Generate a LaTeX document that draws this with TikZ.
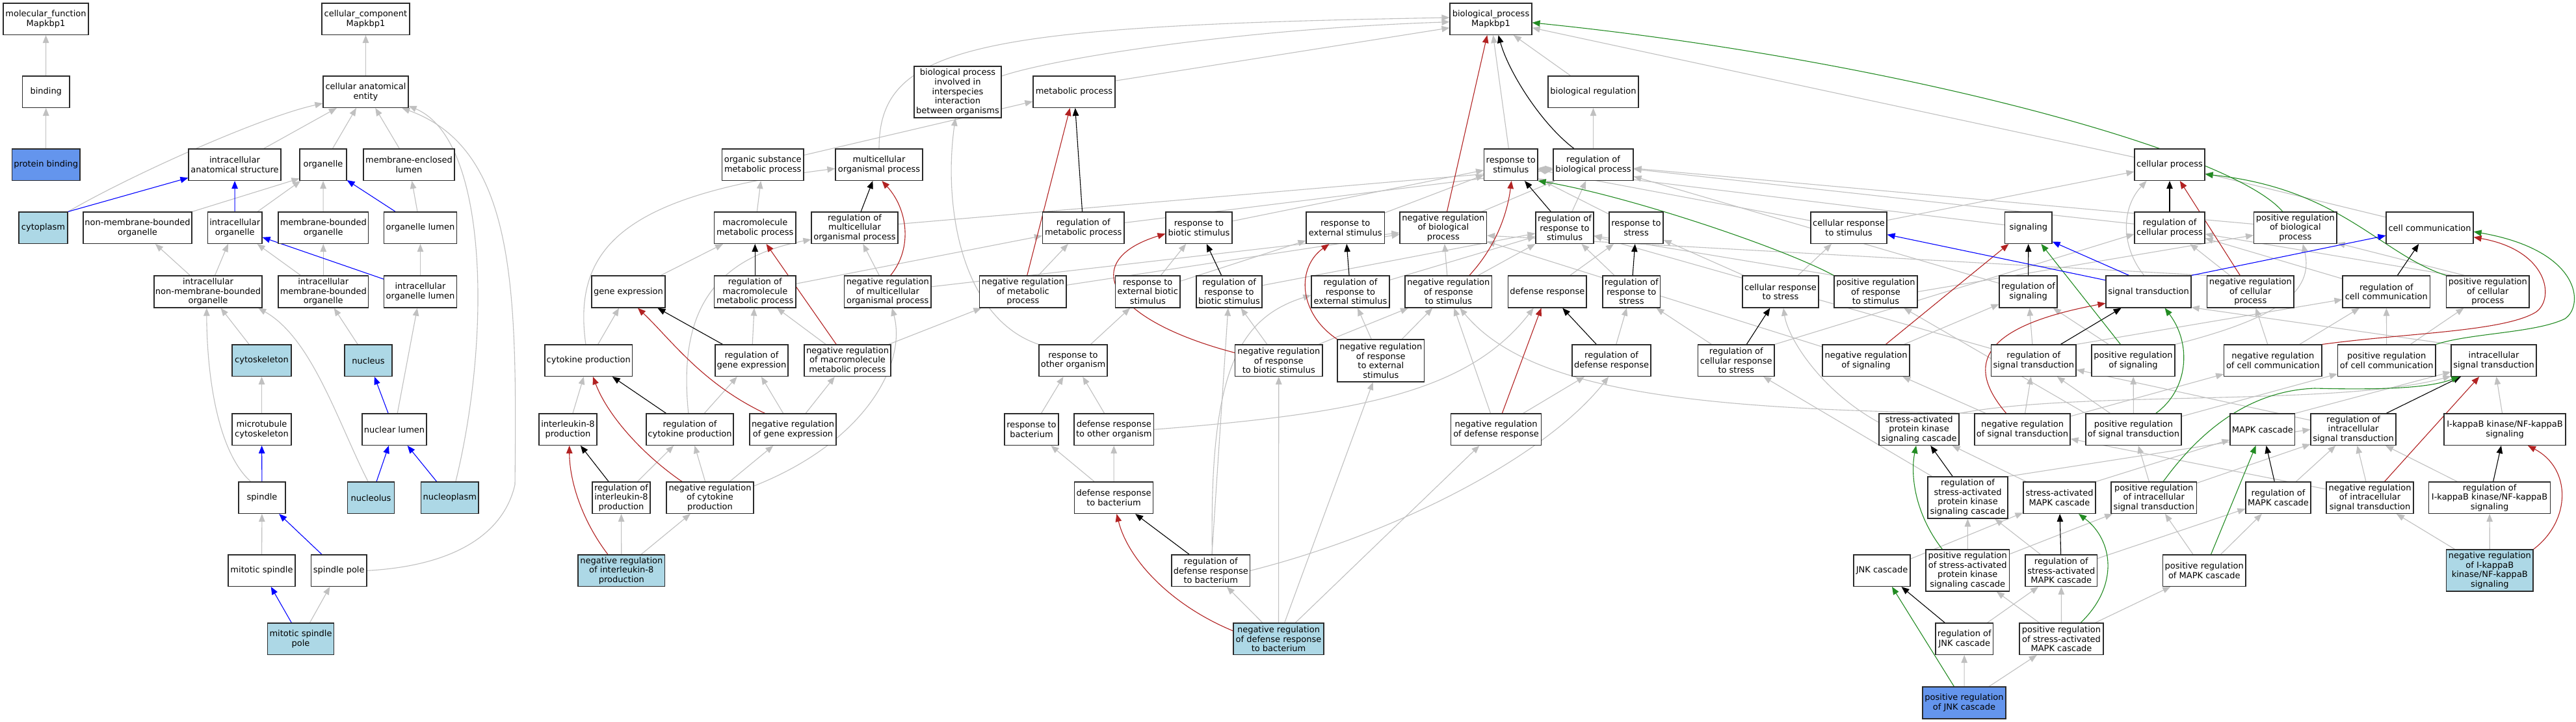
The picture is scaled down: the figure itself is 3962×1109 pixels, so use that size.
\documentclass[tikz,border=0pt]{standalone}
\usepackage{fontspec}
\setmainfont{DejaVu Sans}
\usetikzlibrary{arrows.meta,backgrounds}
\definecolor{egray}{HTML}{C0C0C0}
\definecolor{ered}{HTML}{B22222}
\definecolor{egreen}{HTML}{228B22}
\definecolor{eblue}{HTML}{0000FF}
\definecolor{lblue}{HTML}{ADD8E6}
\definecolor{rblue}{HTML}{6495ED}
\definecolor{bord}{HTML}{2A2A2A}
\tikzset{
 box/.style={draw=bord, line width=1.15pt, fill=white, align=center, inner sep=0pt, font=\fontsize{13}{14.6}\selectfont},
 lb/.style={fill=lblue},
 rb/.style={fill=rblue},
 edge/.style={line width=1.1pt, -{Triangle[length=12pt,width=9.5pt]}},
 ga/.style={edge, draw=egray},
 bk/.style={edge, draw=black},
 rd/.style={edge, draw=ered},
 gn/.style={edge, draw=egreen},
 bl/.style={edge, draw=eblue},
}
\newcommand\gnode[7][]{\node[box,#1,minimum width={(#4)-(#3)},minimum height={(#6)-(#5)}] (#2) at ({((#3)+(#4))/2},{((#5)+(#6))/2}) {#7};}
\newcommand\edg[3]{\draw[#1] (#2) -- (#3);}
\begin{document}
\begin{tikzpicture}[x=1pt,y=-1pt]
\useasboundingbox (0,0) rectangle (3962,1109);
% R0
\gnode{mf}{5}{136}{5}{53.5}{molecular\_function\\Mapkbp1}
\gnode{cc}{495}{630}{5}{53.5}{cellular\_component\\Mapkbp1}
\gnode{bp}{2230}{2356}{5}{53.5}{biological\_process\\Mapkbp1}
% R1
\gnode{binding}{34.5}{107}{117}{165.5}{binding}
\gnode{cae}{497}{628}{117}{165.5}{cellular anatomical\\entity}
\gnode{bpii}{1406}{1540}{102}{181}{biological process\\involved in\\interspecies\\interaction\\between organisms}
\gnode{metab}{1589}{1715}{117}{165.5}{metabolic process}
\gnode{bioreg}{2381}{2520}{117}{165.5}{biological regulation}
% R2
\gnode[rb]{pbind}{18.5}{123}{229}{277.5}{protein binding}
\gnode{ias}{290}{432}{229}{277.5}{intracellular\\anatomical structure}
\gnode{organelle}{461}{533}{229}{277.5}{organelle}
\gnode{mel}{559}{699}{229}{277.5}{membrane-enclosed\\lumen}
\gnode{osmp}{1110.5}{1236}{229}{277.5}{organic substance\\metabolic process}
\gnode{mop}{1285}{1419}{229}{277.5}{multicellular\\organismal process}
\gnode{rts}{2282.6}{2365}{229}{277.5}{response to\\stimulus}
\gnode{rbp}{2389}{2512}{229}{277.5}{regulation of\\biological process}
\gnode{cp}{3283}{3391}{229}{277.5}{cellular process}
% R3
\gnode[lb]{cytoplasm}{29}{104}{326}{374.5}{cytoplasm}
\gnode{nmbo}{128}{295}{326}{374.5}{non-membrane-bounded\\organelle}
\gnode{io}{319.5}{403}{326}{374.5}{intracellular\\organelle}
\gnode{mbo}{428}{566.5}{326}{374.5}{membrane-bounded\\organelle}
\gnode{ol}{590.5}{702.5}{326}{374.5}{organelle lumen}
\gnode{mmp}{1098.5}{1224}{326}{374.5}{macromolecule\\metabolic process}
\gnode{rmop}{1248}{1381}{326}{374.5}{regulation of\\multicellular\\organismal process}
\gnode{rmp}{1603.5}{1729}{326}{374.5}{regulation of\\metabolic process}
\gnode{rbs}{1793}{1895}{326}{374.5}{response to\\biotic stimulus}
\gnode{res}{2009}{2129.5}{326}{374.5}{response to\\external stimulus}
\gnode{nrbp}{2153}{2286.6}{326}{374.5}{negative regulation\\of biological\\process}
\gnode{rrs}{2362}{2451}{326}{374.5}{regulation of\\response to\\stimulus}
\gnode{rstress}{2475}{2558}{326}{374.5}{response to\\stress}
\gnode{crs}{2785}{2902}{326}{374.5}{cellular response\\to stimulus}
\gnode{signaling}{3083.6}{3156}{326}{374.5}{signaling}
\gnode{rcp}{3283}{3391}{326}{374.5}{regulation of\\cellular process}
\gnode{prbp}{3466.6}{3594}{326}{374.5}{positive regulation\\of biological\\process}
\gnode{cellcomm}{3670}{3804}{326}{374.5}{cell communication}
% R4
\gnode{inmbo}{237}{403}{424}{473}{intracellular\\non-membrane-bounded\\organelle}
\gnode{imbo}{428}{566.5}{424}{473}{intracellular\\membrane-bounded\\organelle}
\gnode{iol}{590.5}{702.5}{424}{473}{intracellular\\organelle lumen}
\gnode{geneexp}{910}{1023}{424}{473}{gene expression}
\gnode{rmmp}{1098.5}{1224}{424}{473}{regulation of\\macromolecule\\metabolic process}
\gnode{nrmop}{1298.5}{1432}{424}{473}{negative regulation\\of multicellular\\organismal process}
\gnode{nrmp}{1506.6}{1640}{424}{473}{negative regulation\\of metabolic\\process}
\gnode{rebs}{1715.5}{1815}{424}{473}{response to\\external biotic\\stimulus}
\gnode{rrbs}{1840}{1941}{424}{473}{regulation of\\response to\\biotic stimulus}
\gnode{rres}{2017}{2137}{424}{473}{regulation of\\response to\\external stimulus}
\gnode{nrrs}{2161}{2294.6}{424}{473}{negative regulation\\of response\\to stimulus}
\gnode{defresp}{2319.6}{2440}{424}{473}{defense response}
\gnode{rrstress}{2465}{2553.5}{424}{473}{regulation of\\response to\\stress}
\gnode{crstress}{2680}{2797}{424}{473}{cellular response\\to stress}
\gnode{prrs}{2821}{2949}{424}{473}{positive regulation\\of response\\to stimulus}
\gnode{rsig}{3075}{3164}{424}{473}{regulation of\\signaling}
\gnode{st}{3239}{3370}{424}{473}{signal transduction}
\gnode{nrcp}{3394.5}{3528}{424}{473}{negative regulation\\of cellular\\process}
\gnode{rcc}{3603}{3737.6}{424}{473}{regulation of\\cell communication}
\gnode{prcp}{3762.6}{3890}{424}{473}{positive regulation\\of cellular\\process}
% R5
\gnode[lb]{cytoskeleton}{357}{448}{530}{578.5}{cytoskeleton}
\gnode[lb]{nucleus}{530}{603}{530}{578.5}{nucleus}
\gnode{cytokine}{838}{972.6}{530}{578.5}{cytokine production}
\gnode{rge}{1100}{1212}{530}{578.5}{regulation of\\gene expression}
\gnode{nrmmp}{1237}{1370}{530}{578.5}{negative regulation\\of macromolecule\\metabolic process}
\gnode{rto}{1598}{1703}{530}{578.5}{response to\\other organism}
\gnode{nrrbs}{1899.5}{2034}{530}{578.5}{negative regulation\\of response\\to biotic stimulus}
\gnode{nrres}{2057}{2190.6}{522}{587}{negative regulation\\of response\\to external\\stimulus}
\gnode{rdr}{2418}{2539}{530}{578.5}{regulation of\\defense response}
\gnode{rcrs}{2611.6}{2729}{530}{578.5}{regulation of\\cellular response\\to stress}
\gnode{nrsig}{2803}{2937}{530}{578.5}{negative regulation\\of signaling}
\gnode{rst}{3062.6}{3193}{530}{578.5}{regulation of\\signal transduction}
\gnode{prsig}{3217}{3345}{530}{578.5}{positive regulation\\of signaling}
\gnode{nrcc}{3420.7}{3571}{530}{578.5}{negative regulation\\of cell communication}
\gnode{prcc}{3595.5}{3746}{530}{578.5}{positive regulation\\of cell communication}
\gnode{ist}{3770}{3901}{530}{578.5}{intracellular\\signal transduction}
% R6
\gnode{mtc}{357}{448}{636}{684.5}{microtubule\\cytoskeleton}
\gnode{nl}{557}{656}{636}{684.5}{nuclear lumen}
\gnode{il8}{829}{918}{636}{684.5}{interleukin-8\\production}
\gnode{rcytp}{994}{1128}{636}{684.5}{regulation of\\cytokine production}
\gnode{nrge}{1153}{1286}{636}{684.5}{negative regulation\\of gene expression}
\gnode{rbact}{1545}{1628}{636}{684.5}{response to\\bacterium}
\gnode{drto}{1652}{1774.5}{636}{684.5}{defense response\\to other organism}
\gnode{nrdr}{2231.7}{2370.5}{636}{684.5}{negative regulation\\of defense response}
\gnode{sapk}{2890}{3013}{636}{684.5}{stress-activated\\protein kinase\\signaling cascade}
\gnode{nrst}{3037}{3184}{636}{684.5}{negative regulation\\of signal transduction}
\gnode{prst}{3208}{3355}{636}{684.5}{positive regulation\\of signal transduction}
\gnode{mapk}{3430}{3529.6}{636}{684.5}{MAPK cascade}
\gnode{rist}{3554}{3685}{636}{684.5}{regulation of\\intracellular\\signal transduction}
\gnode{ikk}{3759}{3946}{636}{684.5}{I-kappaB kinase/NF-kappaB\\signaling}
% R7
\gnode{spindle}{367}{439}{741}{789.5}{spindle}
\gnode[lb]{nucleolus}{534.5}{606.5}{741}{789.5}{nucleolus}
\gnode[lb]{nucleoplasm}{647.6}{736}{741}{789.5}{nucleoplasm}
\gnode{ril8}{911}{1000}{741}{789.5}{regulation of\\interleukin-8\\production}
\gnode{nrcytp}{1025}{1159}{741}{789.5}{negative regulation\\of cytokine\\production}
\gnode{drb}{1652.6}{1773.5}{741}{789.5}{defense response\\to bacterium}
\gnode{rsapk}{2965}{3088}{733}{797}{regulation of\\stress-activated\\protein kinase\\signaling cascade}
\gnode{samapk}{3112}{3223}{741}{789.5}{stress-activated\\MAPK cascade}
\gnode{prist}{3247}{3378.5}{741}{789.5}{positive regulation\\of intracellular\\signal transduction}
\gnode{rmapk}{3454}{3554}{741}{789.5}{regulation of\\MAPK cascade}
\gnode{nrist}{3578}{3712}{741}{789.5}{negative regulation\\of intracellular\\signal transduction}
\gnode{rikk}{3735.5}{3922.6}{741}{789.5}{regulation of\\I-kappaB kinase/NF-kappaB\\signaling}
% R8
\gnode{mspindle}{351}{454}{853}{901.5}{mitotic spindle}
\gnode{spole}{478.5}{564}{853}{901.5}{spindle pole}
\gnode[lb]{nril8}{889}{1022.6}{853}{901.5}{negative regulation\\of interleukin-8\\production}
\gnode{rdrb}{1802}{1922.6}{853}{901.5}{regulation of\\defense response\\to bacterium}
\gnode{jnk}{2851}{2938}{853}{901.5}{JNK cascade}
\gnode{prsapk}{2962}{3090.4}{845}{909}{positive regulation\\of stress-activated\\protein kinase\\signaling cascade}
\gnode{rsamapk}{3115}{3225.5}{853}{901.5}{regulation of\\stress-activated\\MAPK cascade}
\gnode{prmapk}{3326.5}{3454}{853}{901.5}{positive regulation\\of MAPK cascade}
\gnode[lb]{nrikk}{3762.6}{3896}{845}{909}{negative regulation\\of I-kappaB\\kinase/NF-kappaB\\signaling}
% R9
\gnode[lb]{msp}{411.6}{513.5}{958}{1006.5}{mitotic spindle\\pole}
\gnode[lb]{nrdrb}{1897}{2036}{958}{1006.5}{negative regulation\\of defense response\\to bacterium}
\gnode{rjnk}{2977}{3065.5}{958}{1006.5}{regulation of\\JNK cascade}
\gnode{prsamapk}{3106}{3235}{958}{1006.5}{positive regulation\\of stress-activated\\MAPK cascade}
% R10
\gnode[rb]{prjnk}{2957}{3085}{1056}{1105}{positive regulation\\of JNK cascade}

\begin{scope}[on background layer]
\fill[white] (0,0) rectangle (3962,1109);
% ---------- gray (is_a) ----------
\edg{ga}{binding}{mf}
\edg{ga}{pbind}{binding}
\edg{ga}{cae}{cc}
\edg{ga}{ias}{cae}
\edg{ga}{organelle}{cae}
\edg{ga}{mel}{cae}
\draw[ga] (cytoplasm.north east) .. controls (200,270) and (400,180) .. (cae.-165);
\draw[ga] (nmbo.north east) -- (organelle.-150);
\edg{ga}{io}{organelle}
\edg{ga}{mbo}{organelle}
\edg{ga}{ol}{mel}
\edg{ga}{inmbo}{nmbo}
\edg{ga}{inmbo}{io}
\edg{ga}{imbo}{io}
\edg{ga}{imbo}{mbo}
\edg{ga}{iol}{ol}
\edg{ga}{cytoskeleton}{inmbo}
\edg{ga}{nucleus}{imbo}
\edg{ga}{mtc}{cytoskeleton}
\edg{ga}{nl}{iol}
\draw[ga] (spindle.125) .. controls (330,690) and (318,560) .. (inmbo.-95);
\draw[ga] (nucleolus.100) .. controls (520,650) and (480,520) .. (inmbo.-18);
\draw[ga] (nucleoplasm.70) .. controls (755,520) and (752,215) .. (cae.-18);
\draw[ga] (spole.east) .. controls (700,870) and (775,820) .. (792,745) .. controls (795,450) and (795,230) .. (cae.-24);
\edg{ga}{mspindle}{spindle}
\edg{ga}{msp}{spole}
% bp level
\draw[ga] (bpii.20) .. controls (1620,90) and (1900,45) .. (bp.184);
\draw[ga] (metab.15) -- (bp.192);
\draw[ga] (mop.north) .. controls (1352,70) and (1500,40) .. (bp.178);
\edg{ga}{bioreg}{bp}
\edg{ga}{rts}{bp}
\edg{ga}{rbp}{bioreg}
\edg{ga}{nrbp}{rbp}
\edg{ga}{cp}{bp}
\edg{ga}{prbp}{rbp}
% metabolic
\edg{ga}{osmp}{metab}
\edg{ga}{mmp}{osmp}
\edg{ga}{geneexp}{mmp}
\edg{ga}{rmmp}{rmp}
\edg{ga}{nrmmp}{rmmp}
\edg{ga}{nrmmp}{nrmp}
\edg{ga}{rmop}{rbp}
\edg{ga}{nrmop}{rmop}
\edg{ga}{nrmop}{nrbp}
\edg{ga}{nrmp}{rmp}
\edg{ga}{nrmp}{nrbp}
\edg{ga}{rmp}{rbp}
\edg{ga}{cytokine}{geneexp}
\draw[ga] (cytokine.100) .. controls (880,380) and (960,300) .. (mop.-175);
\edg{ga}{rge}{rmmp}
\edg{ga}{nrge}{rge}
\edg{ga}{nrge}{nrmmp}
\edg{ga}{il8}{cytokine}
\draw[ga] (rcytp.95) .. controls (1045,500) and (1080,400) .. (rmop.-165);
\edg{ga}{rcytp}{rge}
\edg{ga}{ril8}{rcytp}
\edg{ga}{nrcytp}{rcytp}
\edg{ga}{nrcytp}{nrge}
\draw[ga] (nrcytp.15) .. controls (1330,680) and (1395,560) .. (nrmop.-75);
\edg{ga}{nril8}{ril8}
\edg{ga}{nril8}{nrcytp}
% response
\edg{ga}{res}{rts}
\edg{ga}{rbs}{rts}
\edg{ga}{rebs}{rbs}
\edg{ga}{rebs}{res}
\edg{ga}{rrbs}{rrs}
\edg{ga}{rto}{rebs}
\draw[ga] (rto.north west) .. controls (1480,490) and (1450,320) .. (bpii.-95);
\edg{ga}{nrrbs}{rrbs}
\edg{ga}{nrrbs}{nrrs}
\edg{ga}{rres}{rrs}
\edg{ga}{nrres}{rres}
\edg{ga}{nrres}{nrrs}
\edg{ga}{nrrs}{rrs}
\edg{ga}{nrrs}{nrbp}
\edg{ga}{rrs}{rbp}
\edg{ga}{rstress}{rts}
\edg{ga}{defresp}{rstress}
\edg{ga}{rrstress}{rrs}
\edg{ga}{rdr}{rrstress}
\edg{ga}{nrdr}{rdr}
\edg{ga}{nrdr}{nrrs}
\draw[ga] (drto.east) .. controls (2100,635) and (2260,600) .. (defresp.-130);
\edg{ga}{drto}{rto}
\edg{ga}{rbact}{rto}
\edg{ga}{drb}{rbact}
\edg{ga}{drb}{drto}
\draw[ga] (rdrb.east) .. controls (2150,820) and (2380,700) .. (rdr.-100);
\edg{ga}{rdrb}{rrbs}
\draw[ga] (rdrb.85) .. controls (1860,580) and (1900,490) .. (rres.-175);
\edg{ga}{nrdrb}{rdrb}
\edg{ga}{nrdrb}{nrrbs}
\edg{ga}{nrdrb}{nrres}
\edg{ga}{nrdrb}{nrdr}
\edg{ga}{crstress}{rstress}
\edg{ga}{crstress}{crs}
\edg{ga}{crs}{rts}
\edg{ga}{crs}{cp}
\edg{ga}{rcrs}{rrstress}
\draw[ga] (rcrs.north east) -- (rcp.-170);
\draw[ga] (prrs.north west) -- (rrs.-15);
\draw[ga] (prrs.east) -- (prbp.-170);
\draw[ga] (nrst.north west) .. controls (2600,630) and (2350,600) .. (nrrs.-55);
% signaling
\draw[ga] (st.105) .. controls (3262,380) and (3262,320) .. (cp.-145);
\edg{ga}{signaling}{rts}
\edg{ga}{rsig}{rbp}
\edg{ga}{nrsig}{rsig}
\edg{ga}{nrsig}{nrbp}
\edg{ga}{prsig}{rsig}
\draw[ga] (prsig.north east) .. controls (3500,490) and (3560,450) .. (prbp.-65);
\edg{ga}{rst}{rsig}
\edg{ga}{rst}{rrs}
\draw[ga] (rst.north east) -- (rcc.-170);
\edg{ga}{rcp}{rbp}
\edg{ga}{nrcp}{rcp}
\draw[ga] (nrcp.north west) -- (nrbp.-10);
\draw[ga] (prcp.155) -- (rcp.-10);
\draw[ga] (prcp.145) -- (prbp.-20);
\edg{ga}{cellcomm}{cp}
\edg{ga}{rcc}{rcp}
\edg{ga}{nrcc}{rcc}
\edg{ga}{nrcc}{nrcp}
\edg{ga}{prcc}{rcc}
\edg{ga}{prcc}{prcp}
\draw[ga] (ist.north west) -- (st.-20);
\edg{ga}{nrst}{rst}
\edg{ga}{nrst}{nrsig}
\edg{ga}{nrst}{nrcc}
\edg{ga}{prst}{rst}
\edg{ga}{prst}{prsig}
\edg{ga}{prst}{prcc}
\draw[ga] (prst.north west) -- (prrs);
% kinase cascades
\draw[ga] (sapk.170) .. controls (2800,600) and (2750,520) .. (crstress.-80);
\draw[ga] (sapk.north east) .. controls (3200,600) and (3600,625) .. (ist.-160);
\edg{ga}{rsapk}{rcrs}
\draw[ga] (rsapk.north east) -- (rist.west);
\edg{ga}{samapk}{sapk}
\draw[ga] (samapk.north east) -- (mapk);
\edg{ga}{prist}{rist}
\edg{ga}{prist}{prst}
\edg{ga}{jnk}{samapk}
\edg{ga}{prsapk}{rsapk}
\edg{ga}{prsapk}{prist}
\edg{ga}{rsamapk}{rsapk}
\edg{ga}{rsamapk}{rmapk}
\edg{ga}{rjnk}{rsamapk}
\edg{ga}{prsamapk}{prsapk}
\edg{ga}{prsamapk}{rsamapk}
\edg{ga}{prsamapk}{prmapk}
\edg{ga}{prjnk}{rjnk}
\edg{ga}{prjnk}{prsamapk}
\draw[ga] (mapk.north east) -- (ist);
\edg{ga}{rist}{rst}
\edg{ga}{nrist}{rist}
\edg{ga}{nrist}{nrst}
\edg{ga}{rmapk}{rist}
\edg{ga}{prmapk}{rmapk}
\edg{ga}{prmapk}{prist}
\edg{ga}{ikk}{ist}
\edg{ga}{rikk}{rist}
\edg{ga}{nrikk}{rikk}
\edg{ga}{nrikk}{nrist}
% ---------- black (regulates) ----------
\draw[bk] (rbp.140) .. controls (2370,190) and (2320,110) .. (bp.-65);
\edg{bk}{rmmp}{mmp}
\edg{bk}{rmop}{mop}
\edg{bk}{rmp}{metab}
\edg{bk}{rge}{geneexp}
\edg{bk}{rcytp}{cytokine}
\edg{bk}{ril8}{il8}
\edg{bk}{rrbs}{rbs}
\edg{bk}{rres}{res}
\edg{bk}{rrs}{rts}
\edg{bk}{rrstress}{rstress}
\edg{bk}{rdr}{defresp}
\edg{bk}{rdrb}{drb}
\edg{bk}{rcrs}{crstress}
\edg{bk}{rsig}{signaling}
\edg{bk}{rst}{st}
\edg{bk}{rcp}{cp}
\edg{bk}{rcc}{cellcomm}
\edg{bk}{rsapk}{sapk}
\edg{bk}{rsamapk}{samapk}
\edg{bk}{rjnk}{jnk}
\edg{bk}{rist}{ist}
\edg{bk}{rmapk}{mapk}
\edg{bk}{rikk}{ikk}
% ---------- red (negatively regulates) ----------
\edg{rd}{nrbp}{bp}
\edg{rd}{nrmmp}{mmp}
\draw[rd] (nrmop.80) .. controls (1405,380) and (1395,320) .. (mop.-80);
\edg{rd}{nrmp}{metab}
\draw[rd] (nrge.150) .. controls (1080,590) and (1030,520) .. (geneexp.-60);
\draw[rd] (nrcytp.150) .. controls (990,700) and (935,640) .. (cytokine.-75);
\draw[rd] (nril8.130) .. controls (895,800) and (876,740) .. (il8.-85);
\draw[rd] (nrrbs.170) .. controls (1700,490) and (1660,400) .. (rbs.-170);
\draw[rd] (nrres.north west) .. controls (1995,480) and (1995,410) .. (res.-135);
\draw[rd] (nrrs.38) .. controls (2300,380) and (2318,330) .. (rts.-88);
\edg{rd}{nrdr}{defresp}
\draw[rd] (nrdrb.170) .. controls (1800,930) and (1735,860) .. (drb.-80);
\edg{rd}{nrsig}{signaling}
\edg{rd}{nrcp}{cp}
\draw[rd] (nrcc.north east) .. controls (3700,512) and (3850,510) .. (3900,480) .. controls (3930,460) and (3920,385) .. (cellcomm.-12);
\draw[rd] (nrst.135) .. controls (3030,570) and (3030,505) .. (st.-165);
\edg{rd}{nrist}{ist}
\draw[rd] (nrikk.north east) .. controls (3955,800) and (3955,720) .. (ikk.-35);
% ---------- green (positively regulates) ----------
\draw[gn] (prbp.128) .. controls (3430,230) and (2900,90) .. (bp.-5);
\draw[gn] (prrs.north west) .. controls (2740,380) and (2500,300) .. (rts.south east);
\draw[gn] (prcp.north west) .. controls (3660,390) and (3600,290) .. (cp.-15);
\draw[gn] (prcc.north east) .. controls (3800,512) and (3900,512) .. (3945,490) .. controls (3975,470) and (3970,385) .. (cellcomm.-5);
\edg{gn}{prsig}{signaling}
\draw[gn] (prst.36) .. controls (3365,600) and (3372,530) .. (st.-45);
\draw[gn] (prist.60) .. controls (3400,640) and (3480,600) .. (3560,597) .. controls (3680,600) and (3740,595) .. (ist.-155);
\draw[gn] (prsamapk.40) .. controls (3260,900) and (3250,830) .. (samapk.-40);
\draw[gn] (prsapk.140) .. controls (2945,790) and (2938,730) .. (sapk.-100);
\edg{gn}{prjnk}{jnk}
\edg{gn}{prmapk}{mapk}
% ---------- blue (part_of) ----------
\draw[bl] (cytoplasm.north east) -- (ias);
\edg{bl}{io}{ias}
\edg{bl}{ol}{organelle}
\edg{bl}{iol}{io}
\edg{bl}{nl}{nucleus}
\edg{bl}{spindle}{mtc}
\edg{bl}{nucleolus}{nl}
\edg{bl}{nucleoplasm}{nl}
\edg{bl}{spole}{spindle}
\edg{bl}{msp}{mspindle}
\draw[bl] (st.165) -- (crs.-10);
\draw[bl] (st.140) -- (signaling.-30);
\draw[bl] (st.north east) -- (cellcomm.-170);
\end{scope}
\end{tikzpicture}
\end{document}
